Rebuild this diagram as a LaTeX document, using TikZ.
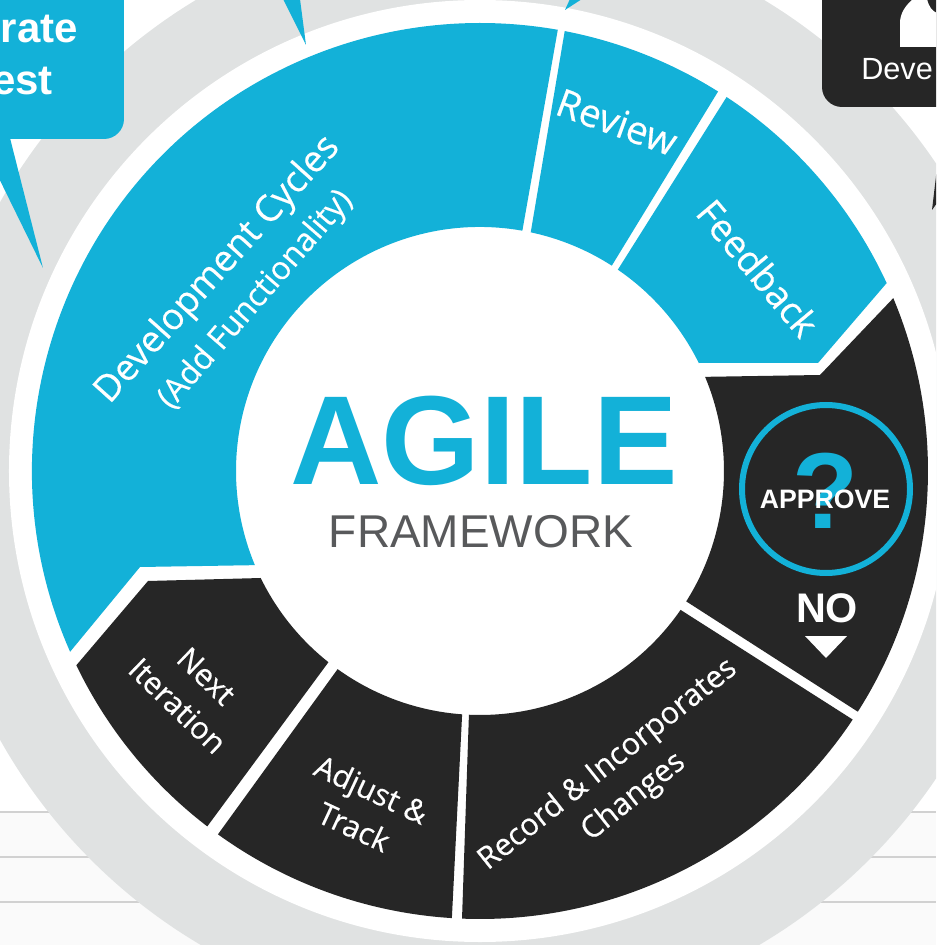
\documentclass[tikz,border=0pt]{standalone}
\usepackage{fontspec}
\setmainfont{Liberation Sans}
\newfontfamily\bandfont[FakeBold=0.4]{Open Sans}
\definecolor{agileblue}{HTML}{13B1D8}
\definecolor{agiledark}{HTML}{262626}
\definecolor{ringgrey}{HTML}{E0E2E2}
\definecolor{wordgrey}{HTML}{58595B}
\begin{document}
\begin{tikzpicture}[
  x = 0.75pt,
  y = 0.75pt,
  bluebit/.style = {
    fill = agileblue
  },
  darkbit/.style = {
    fill = agiledark
  },
  stripe/.style = {
    draw = black!18,
    line width = 2.2pt
  },
  bandtext/.style = {
    text = white,
    align = center,
    inner sep = 0pt,
    font = \bandfont\fontsize{23}{31}\selectfont
  },
  boldtext/.style = {
    inner sep = 0pt,
    font = \bfseries\fontsize{#1}{#1}\selectfont
  }
]
  \useasboundingbox (-480, -474) rectangle (456, 471);
  \clip (-480, -474) rectangle (456, 471);

  \fill[black!2] (-480, -474) rectangle (456, -341);
  \draw[stripe] (-480, -341) -- (456, -341);
  \draw[stripe] (-480, -386) -- (456, -386);
  \draw[stripe] (-480, -431) -- (456, -431);

  \fill[ringgrey] (0, 0) circle (550);
  \fill[white] (0, 0) circle (471);

  \fill[bluebit] (203.8:448) arc[start angle = 203.8, end angle = 80, radius = 448]
    -- (80:244) arc[start angle = 80, end angle = 202.7, radius = 244]
    -- (-340, -96) -- cycle;
  \fill[bluebit] (79.1:448) arc[start angle = 79.1, end angle = 57.9, radius = 448]
    -- (57.3:244) arc[start angle = 57.3, end angle = 78, radius = 244] -- cycle;
  \fill[bluebit] (56.6:448) arc[start angle = 56.6, end angle = 24.8, radius = 448]
    -- (338, 108) -- (219, 108)
    -- (26.2:244) arc[start angle = 26.2, end angle = 55.6, radius = 244] -- cycle;
  \fill[darkbit] (22.7:448) arc[start angle = 22.7, end angle = -32.5, radius = 448]
    -- (-32.3:244) arc[start angle = -32.3, end angle = 22.7, radius = 244]
    -- (340, 96) -- cycle;
  \fill[darkbit] (-33.7:448) arc[start angle = -33.7, end angle = -92.3, radius = 448]
    -- (-92.6:244) arc[start angle = -92.6, end angle = -34.7, radius = 244] -- cycle;
  \fill[darkbit] (-93.6:448) arc[start angle = -93.6, end angle = -125.8, radius = 448]
    -- (-125.7:244) arc[start angle = -125.7, end angle = -94.2, radius = 244] -- cycle;
  \fill[darkbit] (-127.5:448) arc[start angle = -127.5, end angle = -154.3, radius = 448]
    -- (-332, -110) -- (-219, -107)
    -- (-154:244) arc[start angle = -154, end angle = -128.4, radius = 244] -- cycle;

  \fill[bluebit, rounded corners = 15pt] (-520, 332) rectangle (-356, 520);
  \fill[bluebit] (-470, 333) -- (-437, 203) -- (-490, 311) -- (-490, 333) -- cycle;
  \fill[bluebit] (-197, 472) -- (-174, 426) -- (-180, 472) -- cycle;
  \fill[bluebit] (90, 472) -- (85, 461) -- (102, 472) -- cycle;

  \fill[darkbit, rounded corners = 15pt] (342, 364) rectangle (520, 520);
  \fill[darkbit] (452, 261) -- (457, 303) -- (457, 268) -- cycle;
  \fill[white] (420, 424) -- (420, 448) .. controls (420, 458) and (426, 466) .. (433, 472)
    -- (447, 472) .. controls (449, 464) and (452, 460) .. (457, 458) -- (457, 424) -- cycle;

  \node[boldtext = 31.5, text = white, anchor = base east] (grate) at (-402, 428) {grate};
  \node[boldtext = 31.5, text = white, anchor = base east] (est) at (-427, 376) {est};
  \node[text = white, inner sep = 0pt, anchor = base west, font = \fontsize{23}{23}\selectfont]
    (deve) at (381, 391) {Deve};

  \node[bandtext, rotate = 48, font = \bandfont\fontsize{27.5}{32}\selectfont] (dev) at (-262, 201) {Development Cycles};
  \node[bandtext, rotate = 49, font = \bandfont\fontsize{24}{28}\selectfont] (add) at (-224, 171) {(Add Functionality)};
  \node[bandtext, rotate = -20, font = \bandfont\fontsize{29}{32}\selectfont] (review) at (137, 349) {Review};
  \node[bandtext, rotate = -50, font = \bandfont\fontsize{28}{32}\selectfont] (feedback) at (278, 203) {Feedback};
  \node[bandtext, rotate = -44] (next) at (-288, -220) {Next\\Iteration};
  \node[bandtext, rotate = -25] (adjust) at (-117, -337) {Adjust \&\\Track};
  \node[bandtext, rotate = 38.5] (record) at (141, -310) {Record \& Incorporates\\Changes};

  \node[boldtext = 95, text = agileblue] (agile) at (4, 30) {AGILE};
  \node[inner sep = 0pt, text = wordgrey, font = \fontsize{34.5}{34.5}\selectfont] (framework) at (1, -61) {FRAMEWORK};

  \node[circle, draw = agileblue, line width = 4.5pt, minimum size = 168 * 0.75pt, inner sep = 0pt] (ring) at (346, -18) {};
  \node[boldtext = 81, text = agileblue] (question) at (345, -20) {?};
  \node[boldtext = 20, text = white] (approve) at (345, -28) {APPROVE};
  \node[boldtext = 31, text = white] (no) at (347, -137) {NO};
  \fill[white] (325, -165) -- (367, -165) -- (346, -187) -- cycle;
\end{tikzpicture}
\end{document}
